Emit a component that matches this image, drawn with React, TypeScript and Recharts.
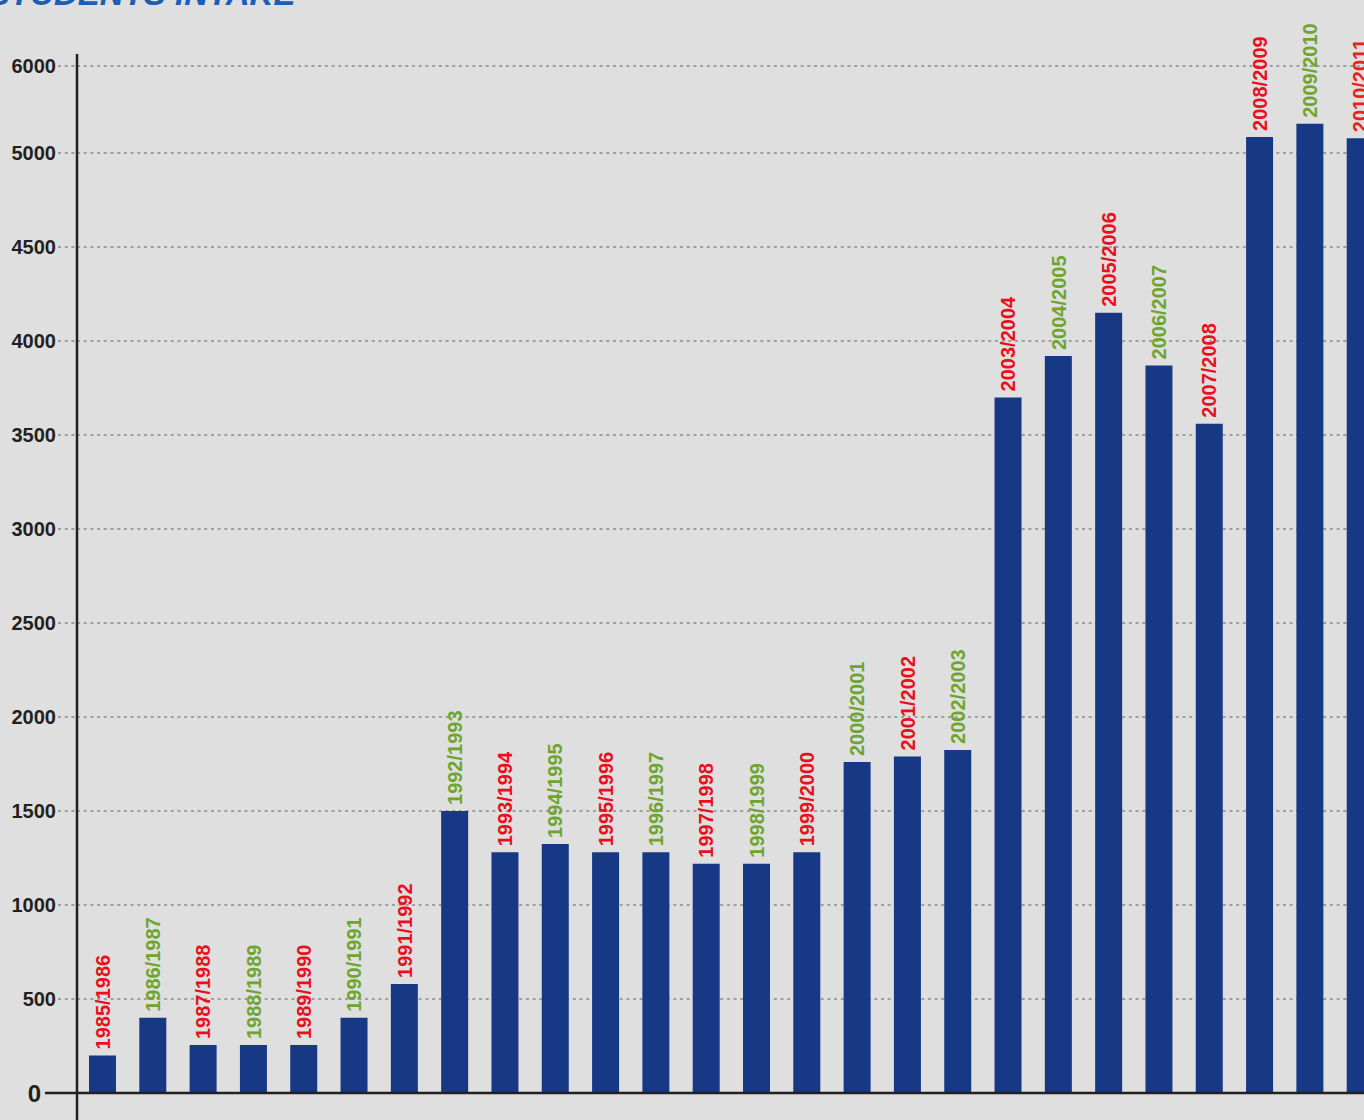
import React from 'react';
import { BarChart, Bar, XAxis, YAxis, CartesianGrid, LabelList } from 'recharts';

// ---- data ----
const SEASONS = [
  '1985/1986', '1986/1987', '1987/1988', '1988/1989', '1989/1990', '1990/1991',
  '1991/1992', '1992/1993', '1993/1994', '1994/1995', '1995/1996', '1996/1997',
  '1997/1998', '1998/1999', '1999/2000', '2000/2001', '2001/2002', '2002/2003',
  '2003/2004', '2004/2005', '2005/2006', '2006/2007', '2007/2008', '2008/2009',
  '2009/2010', '2010/2011',
];
const INTAKE = [
  200, 400, 255, 255, 255, 400,
  580, 1500, 1280, 1325, 1280, 1280,
  1220, 1220, 1280, 1760, 1790, 1825,
  3700, 3920, 4150, 3870, 3560, 5185,
  5335, 5170,
];
const Y_TICKS = [0, 500, 1000, 1500, 2000, 2500, 3000, 3500, 4000, 4500, 5000, 6000];

// ---- styles ----
const LABEL_COLORS = [
  '#e8101c', '#6ea52e', '#e8101c', '#6ea52e', '#e8101c', '#6ea52e',
  '#e8101c', '#6ea52e', '#e8101c', '#6ea52e', '#e8101c', '#6ea52e',
  '#e8101c', '#6ea52e', '#e8101c', '#6ea52e', '#e8101c', '#6ea52e',
  '#e8101c', '#6ea52e', '#e8101c', '#6ea52e', '#e8101c', '#e8101c',
  '#6ea52e', '#e5231c',
];
const FONT = '"Liberation Sans", Arial, Helvetica, sans-serif';
const BG = '#dfdfdf';
const BAR_COLOR = '#173885';
const AXIS_COLOR = '#231f20';
const GRID_COLOR = '#8a8a8a';
const TICK_SIZE = 19;
const TICK_MARGIN = 2;

// The original axis is drawn with a compressed last step (5000 -> 6000).
const SCALE_BREAK = 5000;
const BREAK_FRACTION = 0.9153;

function brokenScale(domain: number[] = [0, 6000], range: number[] = [0, 1]): any {
  let d = domain.slice();
  let r = range.slice();
  const frac = (v: number) => {
    const lo = d[0];
    const hi = d[1];
    if (v <= SCALE_BREAK) return ((v - lo) / (SCALE_BREAK - lo)) * BREAK_FRACTION;
    return BREAK_FRACTION + ((v - SCALE_BREAK) / (hi - SCALE_BREAK)) * (1 - BREAK_FRACTION);
  };
  const s: any = (v: any) => r[0] + frac(Number(v)) * (r[1] - r[0]);
  s.domain = (x?: any) => {
    if (x === undefined) return d.slice();
    d = x.map(Number);
    return s;
  };
  s.range = (x?: any) => {
    if (x === undefined) return r.slice();
    r = x.map(Number);
    return s;
  };
  s.copy = () => brokenScale(d, r);
  s.ticks = () => Y_TICKS.slice();
  s.tickFormat = () => (v: any) => String(v);
  s.nice = () => s;
  s.clamp = () => s;
  s.invert = (px: number) => {
    const f = (px - r[0]) / (r[1] - r[0]);
    if (f <= BREAK_FRACTION) return d[0] + (f / BREAK_FRACTION) * (SCALE_BREAK - d[0]);
    return SCALE_BREAK + ((f - BREAK_FRACTION) / (1 - BREAK_FRACTION)) * (d[1] - SCALE_BREAK);
  };
  return s;
}
const Y_SCALE = brokenScale();

const data = SEASONS.map((season, i) => ({ season, intake: INTAKE[i] }));

const YTick = (props: any) => {
  const { x, y, payload } = props;
  const tx = Number(x);
  const ty = Number(y);
  const axisX = tx + TICK_SIZE + TICK_MARGIN;
  const v = payload.value;
  const isZero = v === Y_TICKS[0];
  const isTop = v === Y_TICKS[Y_TICKS.length - 1];
  return (
    <g>
      {isZero ? (
        <g>
          <line x1={axisX - 32} x2={axisX} y1={ty} y2={ty} stroke={AXIS_COLOR} strokeWidth={2.5} />
          <line x1={axisX} x2={axisX} y1={ty} y2={ty + 28} stroke={AXIS_COLOR} strokeWidth={2.5} />
        </g>
      ) : (
        <line
          x1={axisX - TICK_SIZE}
          x2={axisX}
          y1={ty}
          y2={ty}
          stroke={GRID_COLOR}
          strokeWidth={1.3}
          strokeDasharray="3 3.7"
        />
      )}
      {isTop && (
        <line x1={axisX} x2={axisX} y1={ty - 12} y2={ty} stroke={AXIS_COLOR} strokeWidth={2.5} />
      )}
      <text
        x={isZero ? axisX - 36 : tx}
        y={ty}
        dy={isZero ? '0.38em' : '0.36em'}
        textAnchor="end"
        fill={AXIS_COLOR}
        fontSize={isZero ? 24 : 20}
        fontWeight="bold"
        fontFamily={FONT}
      >
        {v}
      </text>
    </g>
  );
};

const SeasonLabel = (props: any) => {
  const { x, y, width, value } = props;
  const idx = SEASONS.indexOf(String(value));
  const cx = Number(x) + Number(width) / 2;
  const top = Number(y);
  return (
    <text
      transform={`translate(${cx},${top - 6}) rotate(-90)`}
      textAnchor="start"
      dy="0.36em"
      fill={LABEL_COLORS[idx] || '#e8101c'}
      fontSize={20}
      fontWeight="bold"
      fontFamily={FONT}
    >
      {value}
    </text>
  );
};

export default function App() {
  return (
    <div
      style={{
        position: 'fixed',
        left: 0,
        top: 0,
        width: 1364,
        height: 1120,
        overflow: 'hidden',
        background: BG,
      }}
    >
      <svg
        width={1364}
        height={40}
        style={{ position: 'absolute', left: 0, top: 0, overflow: 'visible' }}
      >
        <text
          x={-12}
          y={5}
          fill="#1a5fb4"
          fontSize={33}
          fontWeight="bold"
          fontStyle="italic"
          fontFamily={FONT}
        >
          STUDENTS INTAKE
        </text>
      </svg>
      <div style={{ position: 'absolute', left: 0, top: 0 }}>
        <BarChart
          width={1385}
          height={1120}
          data={data}
          margin={{ top: 66, right: 0, bottom: 0, left: 0 }}
          barCategoryGap={0}
        >
          <CartesianGrid
            vertical={false}
            stroke={GRID_COLOR}
            strokeWidth={1.3}
            strokeDasharray="3 3.7"
          />
          <XAxis
            dataKey="season"
            tick={false}
            tickLine={false}
            height={27}
            axisLine={{ stroke: AXIS_COLOR, strokeWidth: 2.5 }}
          />
          <YAxis
            type="number"
            scale={Y_SCALE}
            domain={[0, 6000]}
            ticks={Y_TICKS}
            interval={0}
            width={77}
            tickSize={TICK_SIZE}
            tickMargin={TICK_MARGIN}
            tickLine={false}
            tick={<YTick />}
            axisLine={{ stroke: AXIS_COLOR, strokeWidth: 2.5 }}
          />
          <Bar dataKey="intake" fill={BAR_COLOR} barSize={27} isAnimationActive={false}>
            <LabelList dataKey="season" content={<SeasonLabel />} />
          </Bar>
        </BarChart>
      </div>
    </div>
  );
}
